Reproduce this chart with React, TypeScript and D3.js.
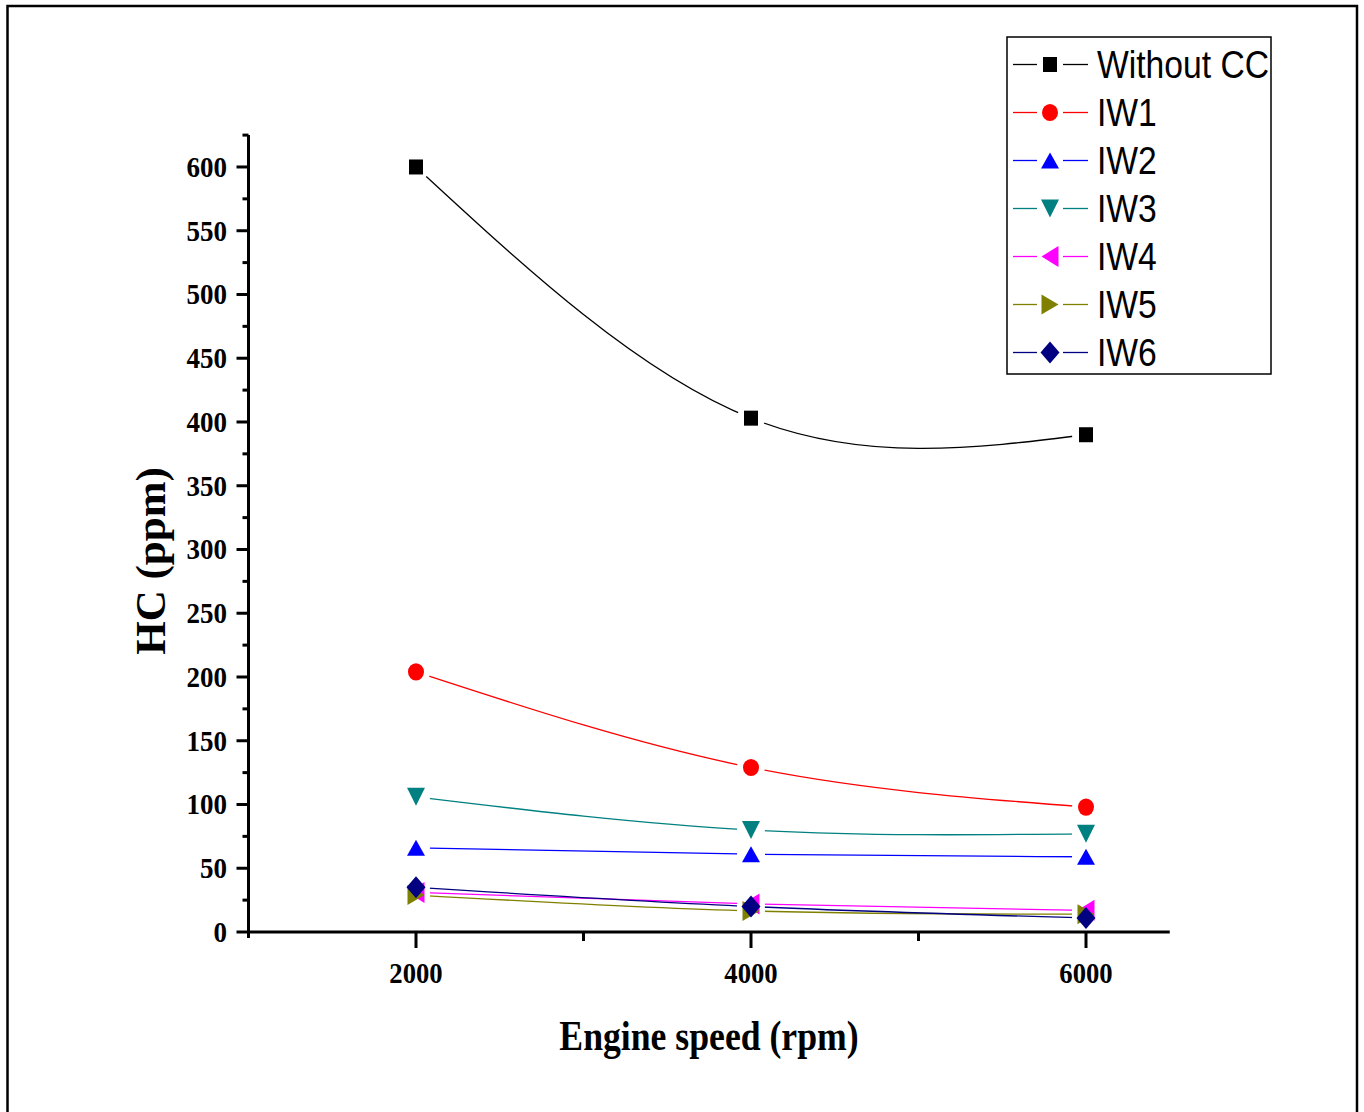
import React from "react";
import * as d3 from "d3";

const speeds = [2000, 4000, 6000];
const seriesNames = ["Without CC", "IW1", "IW2", "IW3", "IW4", "IW5", "IW6"];
const withoutCC = [600, 403, 390];
const iw1 = [204, 129, 98];
const iw2 = [66, 61, 59];
const iw3 = [106, 80, 77];
const iw4 = [31, 22, 17];
const iw5 = [29, 16.5, 14];
const iw6 = [35, 20, 11];
const seriesValues = [withoutCC, iw1, iw2, iw3, iw4, iw5, iw6];
const seriesColors = ["#000000", "#ff0000", "#0000ff", "#008080", "#ff00ff", "#808000", "#000080"];
const seriesShapes = ["square", "circle", "up", "down", "left", "right", "diamond"];
const yMajorTicks = d3.range(0, 601, 50);
const yMinorTicks = d3.range(25, 626, 50);
const xMajorTicks = [2000, 4000, 6000];
const xMinorTicks = [3000, 5000];

function shapePath(kind: string): string {
  switch (kind) {
    case "square":
      return "M-7,-7.5H7V7.5H-7Z";
    case "circle":
      return "M-8,0A8,8.6 0 1,0 8,0A8,8.6 0 1,0 -8,0Z";
    case "up":
      return "M0,-8L9,8L-9,8Z";
    case "down":
      return "M0,9L9,-9L-9,-9Z";
    case "left":
      return "M-8.5,0L8.5,-10.5L8.5,10.5Z";
    case "right":
      return "M8.5,0L-8.5,-10L-8.5,10Z";
    case "diamond":
      return "M0,-11L9.5,0L0,11L-9.5,0Z";
  }
  return "";
}

export default function App() {
  const x = d3.scaleLinear().domain([1000, 6500]).range([248.5, 1169.75]);
  const y = d3.scaleLinear().domain([0, 625]).range([932, 135.1]);
  const line = d3
    .line<number>()
    .x((_, i) => x(speeds[i]))
    .y((d) => y(d))
    .curve(d3.curveNatural);

  const serif = "'Liberation Serif', 'Times New Roman', serif";
  const sans = "'Liberation Sans', Arial, sans-serif";

  const legendX = 1007;
  const legendY = 37;
  const rowY = (i: number) => 64.5 + i * 48;

  return (
    <svg
      width={1364}
      height={1112}
      style={{ position: "absolute", left: 0, top: 0, background: "#fff" }}
    >
      <rect x={0} y={0} width={1364} height={1112} fill="#fff" />
      <path d="M7.5,1112V6H1357V1112" fill="none" stroke="#000" strokeWidth={2.5} />

      <defs>
        {seriesValues.map((vals, si) => (
          <mask id={`gap${si}`} key={si} maskUnits="userSpaceOnUse" x={0} y={0} width={1364} height={1112}>
            <rect x={0} y={0} width={1364} height={1112} fill="#fff" />
            {vals.map((v, i) => (
              <circle key={i} cx={x(speeds[i])} cy={y(v)} r={14} fill="#000" />
            ))}
          </mask>
        ))}
      </defs>

      {/* series lines */}
      {seriesValues.map((vals, si) => (
        <path
          key={`l${si}`}
          d={line(vals) || ""}
          fill="none"
          stroke={seriesColors[si]}
          strokeWidth={1.3}
          mask={`url(#gap${si})`}
        />
      ))}
      {/* markers */}
      {seriesValues.map((vals, si) =>
        vals.map((v, i) => (
          <path
            key={`m${si}-${i}`}
            d={shapePath(seriesShapes[si])}
            transform={`translate(${x(speeds[i])},${y(v)})`}
            fill={seriesColors[si]}
          />
        ))
      )}

      {/* y axis */}
      <line x1={x(1000)} x2={x(1000)} y1={y(625)} y2={938} stroke="#000" strokeWidth={3} />
      {yMajorTicks.map((t) => (
        <g key={`ym${t}`}>
          <line x1={x(1000) - 12} x2={x(1000)} y1={y(t)} y2={y(t)} stroke="#000" strokeWidth={3} />
          <text
            transform={`translate(227,${y(t) + 10}) scale(0.9,1)`}
            textAnchor="end"
            fontFamily={serif}
            fontWeight="bold"
            fontSize={30}
          >
            {t}
          </text>
        </g>
      ))}
      {yMinorTicks.map((t) => (
        <line key={`yn${t}`} x1={x(1000) - 6} x2={x(1000)} y1={y(t)} y2={y(t)} stroke="#000" strokeWidth={3} />
      ))}

      {/* x axis */}
      <line x1={x(1000) - 1} x2={x(6500)} y1={y(0)} y2={y(0)} stroke="#000" strokeWidth={3} />
      {xMajorTicks.map((t) => (
        <g key={`xm${t}`}>
          <line x1={x(t)} x2={x(t)} y1={y(0)} y2={y(0) + 16} stroke="#000" strokeWidth={3} />
          <text
            transform={`translate(${x(t)},983) scale(0.89,1)`}
            textAnchor="middle"
            fontFamily={serif}
            fontWeight="bold"
            fontSize={30}
          >
            {t}
          </text>
        </g>
      ))}
      {xMinorTicks.map((t) => (
        <line key={`xn${t}`} x1={x(t)} x2={x(t)} y1={y(0)} y2={y(0) + 9} stroke="#000" strokeWidth={3} />
      ))}

      {/* axis titles */}
      <text
        transform={`translate(709,1050) scale(0.83,1)`}
        textAnchor="middle"
        fontFamily={serif}
        fontWeight="bold"
        fontSize={43}
      >
        Engine speed (rpm)
      </text>
      <text
        transform={`translate(165,561) rotate(-90)`}
        textAnchor="middle"
        fontFamily={serif}
        fontWeight="bold"
        fontSize={43}
      >
        HC (ppm)
      </text>

      {/* legend */}
      <rect x={legendX} y={legendY} width={264} height={337} fill="none" stroke="#000" strokeWidth={1.5} />
      {seriesNames.map((name, i) => (
        <g key={`lg${i}`}>
          <line x1={1013} x2={1037} y1={rowY(i)} y2={rowY(i)} stroke={seriesColors[i]} strokeWidth={1.3} />
          <line x1={1063} x2={1088} y1={rowY(i)} y2={rowY(i)} stroke={seriesColors[i]} strokeWidth={1.3} />
          <path d={shapePath(seriesShapes[i])} transform={`translate(1050,${rowY(i)})`} fill={seriesColors[i]} />
          <text
            transform={`translate(1097,${rowY(i) + 13.5}) scale(0.85,1)`}
            fontFamily={sans}
            fontSize={39.6}
          >
            {name}
          </text>
        </g>
      ))}
    </svg>
  );
}
